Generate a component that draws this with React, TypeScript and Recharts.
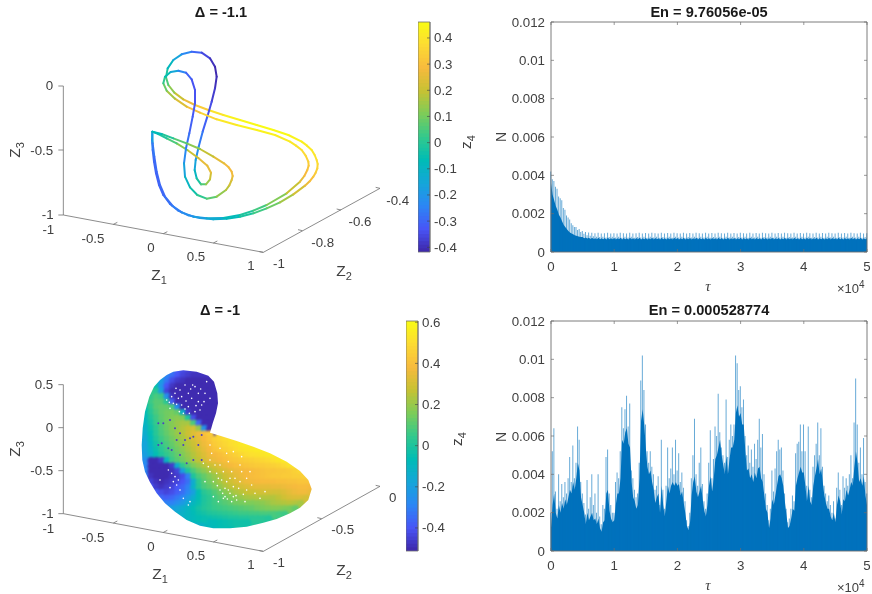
import React from "react";
import {
  ComposedChart,
  ScatterChart,
  Scatter,
  Area,
  Bar,
  XAxis,
  YAxis,
  ReferenceLine,
  ReferenceArea,
} from "recharts";

const TICK_COLOR = "#404040";
const AXIS_COLOR = "#6e6e6e";
const BLUE = "#0072BD";
const FONT = "'Liberation Sans', Arial, sans-serif";

// tau samples shared by both N(tau) panels
const tau = [
  0, 250, 500, 750, 1000, 1250, 1500, 1750, 2000, 2250, 2500, 2750, 3000, 3250, 3500, 3750, 4000, 4250, 4500, 4750,
  5000, 5250, 5500, 5750, 6000, 6250, 6500, 6750, 7000, 7250, 7500, 7750, 8000, 8250, 8500, 8750, 9000, 9250, 9500, 9750,
  10000, 10250, 10500, 10750, 11000, 11250, 11500, 11750, 12000, 12250, 12500, 12750, 13000, 13250, 13500, 13750, 14000, 14250, 14500, 14750,
  15000, 15250, 15500, 15750, 16000, 16250, 16500, 16750, 17000, 17250, 17500, 17750, 18000, 18250, 18500, 18750, 19000, 19250, 19500, 19750,
  20000, 20250, 20500, 20750, 21000, 21250, 21500, 21750, 22000, 22250, 22500, 22750, 23000, 23250, 23500, 23750, 24000, 24250, 24500, 24750,
  25000, 25250, 25500, 25750, 26000, 26250, 26500, 26750, 27000, 27250, 27500, 27750, 28000, 28250, 28500, 28750, 29000, 29250, 29500, 29750,
  30000, 30250, 30500, 30750, 31000, 31250, 31500, 31750, 32000, 32250, 32500, 32750, 33000, 33250, 33500, 33750, 34000, 34250, 34500, 34750,
  35000, 35250, 35500, 35750, 36000, 36250, 36500, 36750, 37000, 37250, 37500, 37750, 38000, 38250, 38500, 38750, 39000, 39250, 39500, 39750,
  40000, 40250, 40500, 40750, 41000, 41250, 41500, 41750, 42000, 42250, 42500, 42750, 43000, 43250, 43500, 43750, 44000, 44250, 44500, 44750,
  45000, 45250, 45500, 45750, 46000, 46250, 46500, 46750, 47000, 47250, 47500, 47750, 48000, 48250, 48500, 48750, 49000, 49250, 49500, 49750,
  50000,
];

// N values in units of 1e-3: peaks are the pale spikes, core the solid fill
const topPeak = [
  4.2, 3.8, 3.7, 3.4, 3.3, 2.9, 2.8, 2.7, 2.3, 2.2, 1.9, 1.8, 1.7, 1.5, 1.4, 1.3, 1.3, 1.15, 1.2, 1.05,
  1.1, 0.95, 1.05, 0.88, 1.02, 0.85, 1.0, 0.82, 0.98, 0.8, 1.0, 0.78, 0.97, 0.8, 0.98, 0.76, 1.0, 0.78, 0.96, 0.8,
  0.98, 0.76, 0.97, 0.8, 1.0, 0.75, 0.98, 0.79, 0.96, 0.76, 1.0, 0.8, 0.97, 0.75, 0.98, 0.78, 1.0, 0.76, 0.96, 0.8,
  0.99, 0.75, 0.97, 0.79, 1.0, 0.76, 0.98, 0.8, 0.96, 0.75, 1.0, 0.78, 0.97, 0.76, 0.99, 0.8, 0.96, 0.75, 1.0, 0.79,
  0.98, 0.76, 0.97, 0.8, 1.0, 0.75, 0.96, 0.78, 0.99, 0.76, 0.97, 0.8, 1.0, 0.75, 0.98, 0.79, 0.96, 0.76, 1.0, 0.8,
  0.97, 0.75, 0.99, 0.78, 0.96, 0.76, 1.0, 0.8, 0.98, 0.75, 0.97, 0.79, 1.0, 0.76, 0.96, 0.8, 0.99, 0.75, 0.97, 0.78,
  1.0, 0.76, 0.98, 0.8, 0.96, 0.75, 1.0, 0.79, 0.97, 0.76, 0.99, 0.8, 0.96, 0.75, 1.0, 0.78, 0.98, 0.76, 0.97, 0.8,
  1.0, 0.75, 0.96, 0.79, 0.99, 0.76, 0.97, 0.8, 1.0, 0.75, 0.98, 0.78, 0.96, 0.76, 1.0, 0.8, 0.97, 0.75, 0.99, 0.79,
  0.96, 0.76, 1.0, 0.8, 0.98, 0.75, 0.97, 0.78, 1.0, 0.76, 0.96, 0.8, 0.99, 0.75, 0.97, 0.79, 1.0, 0.76, 0.98, 0.8,
  0.96, 0.75, 1.0, 0.78, 0.97, 0.76, 0.99, 0.8, 0.96, 0.75, 1.0, 0.79, 0.98, 0.76, 0.97, 0.8, 1.0, 0.75, 0.96, 0.78,
  0.98,
];
const topCore = [
  3.6, 3.0, 2.7, 2.4, 2.2, 1.95, 1.8, 1.6, 1.42, 1.3, 1.2, 1.1, 1.02, 0.96, 0.92, 0.88, 0.85, 0.82, 0.8, 0.78,
  0.78, 0.72, 0.76, 0.7, 0.75, 0.68, 0.74, 0.68, 0.72, 0.66, 0.74, 0.66, 0.72, 0.67, 0.73, 0.65, 0.74, 0.66, 0.72, 0.67,
  0.73, 0.65, 0.72, 0.67, 0.74, 0.65, 0.73, 0.66, 0.72, 0.65, 0.74, 0.67, 0.72, 0.65, 0.73, 0.66, 0.74, 0.65, 0.72, 0.67,
  0.73, 0.65, 0.72, 0.66, 0.74, 0.65, 0.73, 0.67, 0.72, 0.65, 0.74, 0.66, 0.72, 0.65, 0.73, 0.67, 0.72, 0.65, 0.74, 0.66,
  0.73, 0.65, 0.72, 0.67, 0.74, 0.65, 0.72, 0.66, 0.73, 0.65, 0.72, 0.67, 0.74, 0.65, 0.73, 0.66, 0.72, 0.65, 0.74, 0.67,
  0.72, 0.65, 0.73, 0.66, 0.72, 0.65, 0.74, 0.67, 0.73, 0.65, 0.72, 0.66, 0.74, 0.65, 0.72, 0.67, 0.73, 0.65, 0.72, 0.66,
  0.74, 0.65, 0.73, 0.67, 0.72, 0.65, 0.74, 0.66, 0.72, 0.65, 0.73, 0.67, 0.72, 0.65, 0.74, 0.66, 0.73, 0.65, 0.72, 0.67,
  0.74, 0.65, 0.72, 0.66, 0.73, 0.65, 0.72, 0.67, 0.74, 0.65, 0.73, 0.66, 0.72, 0.65, 0.74, 0.67, 0.72, 0.65, 0.73, 0.66,
  0.72, 0.65, 0.74, 0.67, 0.73, 0.65, 0.72, 0.66, 0.74, 0.65, 0.72, 0.67, 0.73, 0.65, 0.72, 0.66, 0.74, 0.65, 0.73, 0.67,
  0.72, 0.65, 0.74, 0.66, 0.72, 0.65, 0.73, 0.67, 0.72, 0.65, 0.74, 0.66, 0.73, 0.65, 0.72, 0.67, 0.74, 0.65, 0.72, 0.66,
  0.72,
];
const bottomPeak = [
  2.0, 5.2, 6.4, 3.1, 2.2, 4.0, 2.6, 3.5, 2.8, 3.6, 3.0, 3.8, 4.9, 3.6, 5.5, 3.8, 4.6, 6.5, 5.8, 3.6,
  3.0, 2.5, 1.9, 3.7, 2.2, 2.8, 4.0, 2.4, 3.0, 2.0, 4.0, 1.8, 1.4, 2.4, 2.2, 4.9, 5.3, 3.0, 2.4, 2.0,
  2.0, 3.6, 4.1, 3.8, 5.2, 7.5, 6.4, 7.4, 8.1, 6.5, 7.7, 4.2, 3.8, 3.2, 2.8, 3.0, 4.6, 8.9, 10.2, 8.4,
  6.6, 5.2, 4.6, 5.2, 4.4, 4.0, 3.2, 3.4, 3.9, 2.4, 5.8, 3.2, 2.2, 3.4, 5.4, 3.8, 4.3, 5.4, 4.0, 5.8,
  4.2, 5.1, 3.6, 4.1, 3.3, 2.6, 1.6, 1.3, 2.0, 3.8, 5.0, 6.9, 4.0, 3.4, 4.6, 5.4, 3.5, 2.6, 2.2, 3.0,
  4.6, 6.3, 3.8, 4.8, 6.5, 6.0, 8.2, 6.2, 5.4, 5.0, 4.6, 7.9, 4.9, 5.8, 6.6, 6.0, 6.6, 10.2, 9.8, 8.4,
  8.6, 7.5, 7.9, 6.0, 5.0, 5.5, 4.6, 5.3, 4.4, 5.6, 4.8, 5.8, 6.9, 5.4, 6.1, 4.0, 3.0, 2.4, 1.6, 2.2,
  4.2, 3.1, 4.3, 5.2, 5.8, 5.3, 5.4, 4.2, 3.0, 2.2, 1.5, 1.7, 2.2, 2.9, 2.6, 5.1, 5.6, 5.7, 6.6, 5.2,
  6.6, 5.2, 3.4, 6.5, 3.2, 2.8, 4.4, 5.0, 5.6, 6.7, 5.0, 6.4, 4.4, 3.4, 3.0, 2.6, 2.9, 2.4, 2.0, 2.6,
  1.7, 3.3, 4.1, 3.2, 2.4, 3.9, 3.3, 3.8, 3.4, 4.0, 5.0, 3.8, 6.7, 9.0, 6.6, 4.6, 5.4, 4.0, 5.9, 3.6,
  3.0,
];
const bottomCore = [
  1.2, 2.4, 3.0, 2.0, 1.7, 2.4, 2.0, 2.5, 2.2, 2.7, 2.4, 2.8, 3.2, 3.0, 3.6, 3.2, 3.8, 4.6, 4.2, 2.8,
  2.4, 2.0, 1.4, 2.0, 1.6, 1.8, 2.0, 1.6, 1.7, 1.4, 1.7, 1.2, 1.0, 1.5, 1.6, 3.0, 3.2, 2.1, 1.7, 1.5,
  1.6, 2.4, 3.0, 3.0, 3.8, 5.8, 5.6, 6.2, 6.4, 5.6, 5.4, 3.6, 2.8, 2.6, 2.2, 2.4, 3.8, 6.8, 7.4, 6.6,
  5.4, 4.4, 4.0, 4.2, 3.6, 3.2, 2.5, 2.8, 3.0, 2.0, 3.4, 2.4, 1.8, 2.6, 3.4, 3.0, 3.4, 3.6, 3.4, 3.6,
  3.4, 3.5, 2.9, 3.1, 2.5, 2.0, 1.3, 1.1, 1.5, 2.9, 3.6, 3.9, 3.1, 2.8, 3.1, 3.4, 2.7, 2.1, 1.8, 2.4,
  3.4, 3.9, 3.1, 3.8, 4.8, 5.0, 5.4, 5.8, 5.0, 4.5, 4.0, 5.0, 4.0, 4.8, 5.4, 5.4, 5.8, 7.2, 7.6, 7.0,
  7.2, 6.6, 6.6, 5.2, 4.2, 4.3, 3.8, 4.0, 3.6, 4.1, 3.8, 4.3, 4.4, 3.8, 3.6, 2.9, 2.2, 2.0, 1.2, 1.7,
  2.7, 2.4, 2.9, 3.4, 3.9, 4.0, 3.8, 3.4, 2.6, 1.9, 1.2, 1.3, 1.7, 2.2, 2.1, 3.4, 3.8, 4.1, 4.4, 4.1,
  4.1, 3.4, 2.6, 3.4, 2.6, 2.4, 3.4, 3.9, 4.3, 4.8, 4.0, 4.3, 3.6, 2.9, 2.5, 2.2, 2.2, 1.8, 1.6, 2.0,
  1.5, 2.4, 2.9, 2.6, 1.9, 2.7, 2.6, 3.2, 2.9, 3.2, 3.6, 3.4, 4.4, 5.2, 4.6, 3.6, 3.8, 3.4, 3.9, 2.9,
  2.4,
];

const tauTicks = [0, 10000, 20000, 30000, 40000, 50000];
const nTicks = [0, 2, 4, 6, 8, 10, 12];
const nTickLabels = ["0", "0.002", "0.004", "0.006", "0.008", "0.01", "0.012"];

// Delta = -1.1 orbit, projected onto the page plane (3x picture units) with its z4 value (percent)
const orbitU = [
  457, 456, 458, 462, 468, 477, 490, 510, 535, 565, 600, 640, 680, 720, 760, 800, 840, 880, 915, 929, 940, 947, 952, 953, 950, 944, 935, 921, 905, 865, 820, 770, 720, 670, 625, 585, 550, 523, 505, 498, 503, 520, 545, 575, 605, 630, 645, 650, 645, 635, 622, 608, 596, 587, 584, 590, 603, 618, 630, 633, 622, 595, 562, 530, 500, 475,
  457, 458, 463, 470, 480, 495, 518, 545, 580, 620, 670, 720, 760, 800, 860, 900, 913, 922, 926, 925, 917, 905, 888, 870, 825, 770, 710, 650, 600, 560, 525, 500, 490, 495, 512, 535, 558, 575, 585, 585, 578, 568, 558, 552, 555, 570, 592, 620, 650, 678, 688, 695, 698, 695, 686, 672, 640, 600, 560, 520, 485, 457,
];
const orbitV = [
  395, 420, 450, 485, 520, 555, 585, 612, 632, 646, 654, 658, 656, 650, 640, 625, 607, 583, 557, 544, 530, 518, 505, 492, 480, 465, 450, 437, 425, 405, 390, 375, 360, 345, 330, 315, 298, 278, 255, 232, 205, 180, 163, 155, 158, 175, 200, 230, 265, 305, 350, 395, 440, 480, 510, 535, 553, 553, 538, 518, 497, 474, 450, 430, 415, 402,
  395, 430, 470, 515, 555, 590, 618, 637, 650, 655, 654, 645, 632, 615, 580, 545, 528, 510, 497, 485, 467, 450, 437, 425, 405, 390, 375, 358, 338, 320, 296, 272, 250, 230, 216, 212, 218, 238, 270, 310, 350, 400, 445, 490, 530, 562, 585, 596, 590, 570, 556, 540, 528, 515, 502, 490, 470, 447, 430, 415, 402, 395,
];
const orbitZ4 = [
  -10, -22, -28, -30, -31, -31, -30, -28, -25, -22, -18, -14, -10, -5, 1, 6, 12, 19, 25, 28, 31, 33, 35, 37, 38, 40, 41, 42, 43, 45, 46, 46, 45, 42, 37, 30, 24, 17, 9, 2, -5, -12, -20, -27, -33, -38, -41, -41, -39, -36, -33, -29, -24, -19, -13, -6, 2, 10, 18, 24, 27, 24, 17, 8, 2, -5,
  -10, -25, -28, -30, -30, -29, -27, -24, -20, -16, -11, -4, 1, 7, 16, 24, 27, 30, 32, 34, 36, 38, 40, 41, 43, 44, 43, 39, 33, 27, 20, 12, 5, -2, -10, -20, -28, -33, -34, -33, -32, -30, -26, -20, -13, -7, -1, 4, 10, 17, 20, 24, 26, 28, 28, 27, 23, 16, 10, 3, -4, -10,
];

// Delta = -1 point cloud sampled on a grid: [v, first u, z4 values in percent, one per 16 units of u]
const cloudRows: [number, number, number[]][] = [
  [20, 144, [-38, -42, -44, -46]],
  [32, 112, [-28, -34, -40, -44, -46, -48, -48, -48]],
  [48, 96, [-20, -32, -42, -46, -48, -50, -50, -50, -50, -50, -50]],
  [64, 80, [-5, -24, -40, -47, -50, -50, -50, -50, -50, -50, -50, -50]],
  [80, 64, [6, 2, -20, -44, -50, -50, -50, -50, -50, -50, -50, -50, -50]],
  [96, 64, [4, 8, 6, -25, -48, -50, -50, -50, -50, -50, -50, -50, -50]],
  [112, 48, [-2, 6, 10, 10, 2, -38, -50, -50, -50, -50, -50, -50, -50, -50]],
  [128, 48, [-4, 4, 10, 12, 12, 8, -26, -50, -50, -50, -50, -50, -50, -50]],
  [144, 48, [-6, 2, 8, 12, 14, 15, 12, -12, -46, -50, -50, -50, -50]],
  [160, 48, [-8, 0, 6, 11, 14, 16, 18, 16, 0, -42, -50, -50, -50]],
  [176, 48, [-10, -2, 5, 10, 14, 17, 20, 22, 22, 8, -36, -50, -50]],
  [192, 48, [-12, -4, 3, 9, 13, 17, 20, 24, 27, 30, 20, -25, -50]],
  [208, 48, [-14, -6, 2, 8, 12, 16, 20, 24, 28, 32, 36, 40, 44]],
  [224, 48, [-16, -8, 0, 6, 10, 14, 18, 22, 26, 30, 34, 38, 42, 46, 48, 50, 52]],
  [240, 48, [-18, -10, -2, 4, 8, 12, 16, 20, 24, 28, 32, 36, 40, 44, 46, 48, 50, 52, 54, 55]],
  [256, 48, [-18, -12, -4, 2, 6, 10, 14, 18, 22, 26, 30, 34, 38, 42, 44, 46, 48, 50, 52, 53, 54, 55, 55]],
  [272, 48, [-20, -14, -6, 0, 4, 8, 12, 16, 20, 24, 28, 32, 36, 38, 40, 42, 44, 46, 48, 50, 51, 52, 53, 54, 55]],
  [288, 48, [-26, -50, -50, -46, -10, 6, 10, 14, 18, 22, 26, 30, 34, 36, 38, 40, 42, 43, 44, 45, 46, 47, 48, 49, 51, 53, 55]],
  [304, 48, [-28, -50, -50, -50, -50, -46, -14, 4, 10, 16, 20, 24, 28, 30, 33, 36, 38, 40, 41, 42, 43, 44, 44, 45, 46, 47, 49, 52]],
  [320, 48, [-28, -50, -50, -50, -50, -48, -44, -20, 0, 8, 14, 18, 22, 26, 29, 32, 34, 36, 37, 38, 39, 40, 41, 42, 42, 43, 43, 44, 46, 48]],
  [336, 48, [-30, -48, -50, -50, -50, -48, -46, -42, -30, 0, 8, 12, 16, 20, 24, 28, 31, 34, 36, 38, 39, 40, 41, 42, 43, 43, 44, 44, 45, 45, 46]],
  [352, 64, [-44, -48, -50, -48, -46, -44, -40, -34, -15, 3, 10, 14, 18, 22, 26, 29, 32, 34, 36, 37, 38, 39, 39, 39, 40, 40, 41, 41, 42, 42, 42]],
  [368, 64, [-40, -46, -48, -46, -44, -40, -36, -30, -12, 2, 8, 11, 15, 19, 23, 26, 28, 30, 32, 33, 34, 34, 34, 35, 35, 36, 37, 38, 39, 39, 38]],
  [384, 80, [-38, -42, -44, -42, -38, -34, -28, -20, -6, 2, 5, 9, 13, 17, 20, 23, 25, 27, 28, 29, 30, 30, 30, 30, 32, 34, 36, 37, 37, 35]],
  [400, 80, [-30, -36, -38, -36, -32, -28, -22, -14, -6, 0, 3, 7, 10, 13, 16, 18, 20, 22, 23, 24, 24, 24, 24, 26, 29, 31, 32, 32, 30]],
  [416, 96, [-28, -30, -30, -26, -22, -16, -10, -5, 0, 3, 6, 8, 10, 12, 14, 15, 16, 16, 17, 18, 20, 22, 23, 24, 25, 24, 22]],
  [432, 112, [-20, -20, -18, -14, -10, -6, -2, 1, 3, 5, 6, 7, 8, 9, 10, 11, 12, 14, 15, 16, 17, 17, 16, 15, 12]],
  [448, 144, [-14, -12, -10, -7, -4, -2, 0, 1, 2, 3, 4, 5, 6, 6, 7, 7, 8, 8, 8, 7, 6]],
  [462, 176, [-10, -8, -6, -5, -4, -3, -2, -1, 0, 0, 1, 1, 2, 2, 2, 1]],
  [474, 240, [-8, -7, -6, -5, -4, -3, -3, -3]],
];
// edge of the cloud: u, v, z4 (percent)
const cloudEdge = [
  [130, 20, -36], [160, 16, -42], [200, 20, -46], [235, 32, -48], [252, 50, -50], [262, 85, -50], [264, 115, -50], [258, 145, -50], [248, 175, -50], [240, 203, -50],
  [270, 212, 48], [320, 228, 52], [370, 245, 54], [420, 265, 55], [470, 290, 54], [510, 318, 50], [535, 345, 44], [545, 372, 38], [535, 405, 32], [510, 428, 24],
  [480, 445, 14], [440, 462, 6], [400, 473, 1], [350, 485, -2], [300, 490, -6], [250, 490, -9], [210, 482, -12], [170, 465, -14], [135, 440, -20], [105, 415, -25],
  [80, 385, -30], [60, 352, -34], [45, 320, -30], [37, 285, -24], [35, 240, -18], [38, 190, -12], [45, 140, -6], [58, 95, -2], [72, 65, 0], [90, 45, -15], [110, 30, -26],
];
// gaps in the cloud and stray low-z4 points lying on top of the ribbon
const cloudGaps = [
  [130, 115], [145, 100], [165, 60], [175, 85], [195, 65], [205, 110], [160, 145], [135, 85], [185, 100], [215, 120], [150, 75], [120, 130], [175, 125], [195, 140], [225, 85], [110, 105], [230, 50], [240, 100], [155, 120], [205, 85],
  [125, 95], [140, 118], [168, 108], [182, 72], [212, 72], [198, 122], [148, 140], [165, 132], [118, 112], [178, 145], [188, 60], [222, 110], [138, 70], [155, 95], [210, 135],
  [240, 320], [265, 340], [285, 395], [300, 385], [320, 405], [270, 375], [310, 365], [255, 300], [330, 350], [350, 375], [290, 350], [240, 285], [280, 320], [305, 320], [345, 410], [265, 410], [360, 320], [390, 400], [225, 350], [250, 395], [330, 300], [295, 290], [310, 260], [270, 250], [240, 240], [280, 400], [310, 395], [295, 375],
  [250, 350], [262, 362], [278, 385], [292, 402], [305, 410], [318, 392], [326, 370], [340, 388], [275, 345], [300, 340], [315, 340], [260, 325], [235, 305], [285, 370], [365, 360], [375, 385], [405, 380], [335, 320], [350, 340], [270, 300], [245, 265], [220, 295], [290, 265], [335, 275],
  [130, 350], [140, 360], [125, 325], [115, 315], [180, 410], [175, 420], [90, 345], [150, 375], [135, 335], [120, 368], [145, 345], [160, 400],
];
const cloudStray = [
  [85, 175], [100, 175], [120, 165], [135, 190], [150, 205], [165, 225], [190, 215], [205, 240], [215, 210], [95, 235], [85, 240], [115, 250], [125, 255], [150, 270], [170, 295], [190, 285], [215, 285], [160, 240], [140, 225], [180, 220],
];

const topAxes = [
  [190, 258, 190, 645], [190, 645, 790, 757], [790, 757, 1140, 565],
  [175, 258, 190, 258], [175, 450, 190, 450], [175, 645, 190, 645],
  [340, 673, 352, 667], [490, 701, 502, 695], [640, 729, 652, 723], [778, 755, 790, 757],
  [907, 692, 894, 689], [1023, 630, 1010, 627], [1140, 565, 1127, 562],
];
const bottomAxes = [
  [190, 263, 190, 650], [190, 650, 790, 763], [790, 763, 1140, 568],
  [175, 263, 190, 263], [175, 392, 190, 392], [175, 521, 190, 521], [175, 650, 190, 650],
  [340, 678, 352, 672], [490, 706, 502, 700], [640, 735, 652, 729], [778, 761, 790, 763],
  [965, 665, 952, 662], [1140, 568, 1127, 565],
];
const topAxisLabels = [
  { u: 148, v: 257, label: "0" }, { u: 125, v: 450, label: "-0.5" }, { u: 143, v: 643, label: "-1" },
  { u: 145, v: 687, label: "-1" }, { u: 279, v: 714, label: "-0.5" }, { u: 453, v: 742, label: "0" }, { u: 588, v: 770, label: "0.5" }, { u: 753, v: 797, label: "1" },
  { u: 837, v: 790, label: "-1" }, { u: 968, v: 727, label: "-0.8" }, { u: 1080, v: 664, label: "-0.6" }, { u: 1193, v: 600, label: "-0.4" },
];
const bottomAxisLabels = [
  { u: 132, v: 263, label: "0.5" }, { u: 148, v: 392, label: "0" }, { u: 125, v: 521, label: "-0.5" }, { u: 143, v: 650, label: "-1" },
  { u: 145, v: 693, label: "-1" }, { u: 279, v: 720, label: "-0.5" }, { u: 453, v: 748, label: "0" }, { u: 588, v: 776, label: "0.5" }, { u: 753, v: 803, label: "1" },
  { u: 837, v: 796, label: "-1" }, { u: 1028, v: 698, label: "-0.5" }, { u: 1178, v: 602, label: "0" },
];

const topBarTicks = [-0.4, -0.3, -0.2, -0.1, 0, 0.1, 0.2, 0.3, 0.4];
const bottomBarTicks = [-0.4, -0.2, 0, 0.2, 0.4, 0.6];
const topClim: [number, number] = [-0.418, 0.461];
const bottomClim: [number, number] = [-0.512, 0.606];

const parulaStops = [
  [62, 38, 168], [72, 85, 246], [44, 134, 245], [20, 166, 217], [0, 188, 181], [51, 201, 140],
  [125, 204, 89], [199, 194, 51], [247, 186, 61], [252, 219, 51], [249, 251, 20],
];

function parula(t: number) {
  const p = Math.min(0.9999, Math.max(0, t)) * (parulaStops.length - 1);
  const i = Math.floor(p);
  const f = p - i;
  const c = parulaStops[i].map((s, k) => Math.round(s + (parulaStops[i + 1][k] - s) * f));
  return `rgb(${c[0]},${c[1]},${c[2]})`;
}
const zColor = (z: number, clim: [number, number]) => parula((z - clim[0]) / (clim[1] - clim[0]));

const NoMark = () => <g />;

function TickText(props: any) {
  return (
    <text x={props.cx} y={props.cy} dy={4.5} textAnchor="middle" fontSize={13.3} fontFamily={FONT} fill={TICK_COLOR}>
      {props.payload.label}
    </text>
  );
}

function Panel3D({ height, axes, labels, children }: any) {
  return (
    <ScatterChart width={470} height={height} margin={{ top: 0, right: 0, bottom: 0, left: 0 }}>
      <XAxis hide type="number" dataKey="u" domain={[0, 1410]} />
      <YAxis hide type="number" dataKey="v" domain={[0, height * 3]} reversed />
      {axes.map((a: number[], i: number) => (
        <ReferenceLine key={i} segment={[{ x: a[0], y: a[1] }, { x: a[2], y: a[3] }]} stroke={AXIS_COLOR} strokeWidth={0.8} />
      ))}
      {children}
      <Scatter data={labels} shape={TickText} isAnimationActive={false} />
    </ScatterChart>
  );
}

const orbitSegments = orbitU.slice(1).map((_, i) => ({
  z: (orbitZ4[i] + orbitZ4[i + 1]) / 200,
  points: [
    { u: orbitU[i], v: orbitV[i] },
    { u: orbitU[i + 1], v: orbitV[i + 1] },
  ],
})).filter((s) => s.points[0].u !== s.points[1].u || s.points[0].v !== s.points[1].v);

// cloud data are in crop units, shifted here onto the panel's plane
const CLOUD_U0 = 390;
const CLOUD_V0 = 204;
const cloudPoints = cloudRows.flatMap(([v, first, zs]) =>
  zs.map((z, i) => ({ u: CLOUD_U0 + first + i * 16, v: CLOUD_V0 + v, z: z / 100 }))
);
const shiftPoint = ([u, v]: number[]) => ({ u: CLOUD_U0 + u, v: CLOUD_V0 + v });
const edgeSegments = cloudEdge.map((e, i) => {
  const next = cloudEdge[(i + 1) % cloudEdge.length];
  return { z: e[2] / 100, points: [shiftPoint(e), shiftPoint(next)] };
});
const cloudClip = `polygon(${cloudEdge
  .map((e) => `${((CLOUD_U0 + e[0]) / 3).toFixed(1)}px ${((CLOUD_V0 + e[1]) / 3).toFixed(1)}px`)
  .join(",")})`;

function CloudDot(props: any) {
  return <circle cx={props.cx} cy={props.cy} r={3.9} fill={zColor(props.payload.z, bottomClim)} />;
}
const GapDot = (props: any) => <circle cx={props.cx} cy={props.cy} r={0.8} fill="#ffffff" />;
const StrayDot = (props: any) => <circle cx={props.cx} cy={props.cy} r={1} fill="#4a3fc4" />;

function Colorbar({ left, top, clim, ticks }: { left: number; top: number; clim: [number, number]; ticks: number[] }) {
  const levels = Array.from({ length: 64 }, (_, i) => i);
  const step = (clim[1] - clim[0]) / 64;
  const BarTick = (p: any) => (
    <g>
      <line x1={p.x - 3} x2={p.x} y1={p.y} y2={p.y} stroke={TICK_COLOR} strokeWidth={0.6} />
      <text x={p.x + 4} y={p.y} dy={4.5} fontSize={13.3} fontFamily={FONT} fill={TICK_COLOR}>
        {String(p.payload.value)}
      </text>
    </g>
  );
  return (
    <div style={{ position: "absolute", left, top: top - 10 }}>
      <ComposedChart width={52} height={250} margin={{ top: 10, right: 0, bottom: 10, left: 0 }} data={[{ x: 0, y: clim[0] }, { x: 1, y: clim[1] }]}>
        <XAxis hide type="number" dataKey="x" domain={[0, 1]} />
        <YAxis
          orientation="right"
          type="number"
          width={40}
          domain={clim}
          ticks={ticks}
          interval={0}
          tickSize={0}
          tickMargin={0}
          tickLine={false}
          axisLine={{ stroke: AXIS_COLOR, strokeWidth: 0.8 }}
          tick={BarTick}
        />
        <Area dataKey="y" stroke="none" fillOpacity={0} isAnimationActive={false} dot={false} activeDot={false} />
        {levels.map((l) => (
          <ReferenceArea
            key={l}
            x1={0}
            x2={1}
            y1={clim[0] + l * step}
            y2={Math.min(clim[1], clim[0] + (l + 1.4) * step)}
            fill={parula((l + 0.5) / 64)}
            fillOpacity={1}
            stroke="none"
          />
        ))}
        <ReferenceArea x1={0} x2={1} y1={clim[0]} y2={clim[1]} fill="none" stroke={AXIS_COLOR} strokeWidth={0.8} />
      </ComposedChart>
    </div>
  );
}

function NPanel({ top, marginTop, height, peak, core }: any) {
  const data = tau.map((t, i) => ({ tau: t, peak: peak[i], core: core[i] }));
  const YTick = (p: any) => (
    <g>
      <line x1={p.x} x2={p.x + 3} y1={p.y} y2={p.y} stroke={AXIS_COLOR} strokeWidth={0.7} />
      <text x={p.x - 6} y={p.y} dy={4.5} textAnchor="end" fontSize={13.3} fontFamily={FONT} fill={TICK_COLOR}>
        {nTickLabels[nTicks.indexOf(p.payload.value)]}
      </text>
    </g>
  );
  const XTick = (p: any) => (
    <g>
      <line x1={p.x} x2={p.x} y1={p.y} y2={p.y - 3} stroke={AXIS_COLOR} strokeWidth={0.7} />
      <text x={p.x} y={p.y} dy={19} textAnchor="middle" fontSize={13.3} fontFamily={FONT} fill={TICK_COLOR}>
        {p.payload.value / 10000}
      </text>
    </g>
  );
  const TopTick = (p: any) => <line x1={p.x} x2={p.x} y1={p.y} y2={p.y + 3} stroke={AXIS_COLOR} strokeWidth={0.7} />;
  const RightTick = (p: any) => <line x1={p.x} x2={p.x - 3} y1={p.y} y2={p.y} stroke={AXIS_COLOR} strokeWidth={0.7} />;
  const axisLine = { stroke: AXIS_COLOR, strokeWidth: 0.9 };
  return (
    <div style={{ position: "absolute", left: 490, top }}>
      <ComposedChart width={382} height={height} data={data} margin={{ top: marginTop - 1, right: 4, bottom: 0, left: 0 }}>
        <XAxis dataKey="tau" type="number" domain={[0, 50000]} ticks={tauTicks} interval={0} height={43} tickSize={0} tickMargin={0} tickLine={false} axisLine={axisLine} tick={XTick} />
        <XAxis xAxisId="box" orientation="top" dataKey="tau" type="number" domain={[0, 50000]} ticks={tauTicks} interval={0} height={1} tickSize={0} tickMargin={0} tickLine={false} axisLine={axisLine} tick={TopTick} />
        <YAxis type="number" domain={[0, 12]} ticks={nTicks} interval={0} width={61} tickSize={0} tickMargin={0} tickLine={false} axisLine={axisLine} tick={YTick} />
        <YAxis yAxisId="box" orientation="right" type="number" domain={[0, 12]} ticks={nTicks} interval={0} width={1} tickSize={0} tickMargin={0} tickLine={false} axisLine={axisLine} tick={RightTick} />
        <Area xAxisId="box" yAxisId="box" dataKey="core" stroke="none" fillOpacity={0} isAnimationActive={false} dot={false} activeDot={false} />
        <Bar dataKey="peak" barSize={1} fill={BLUE} fillOpacity={0.6} isAnimationActive={false} />
        <Area dataKey="core" type="linear" stroke="none" fill={BLUE} fillOpacity={1} isAnimationActive={false} dot={false} activeDot={false} />
      </ComposedChart>
    </div>
  );
}

function Sub({ x, y, base, sub, rotate }: any) {
  return (
    <text
      x={x}
      y={y}
      fontSize={15.5}
      fontFamily={FONT}
      fill={TICK_COLOR}
      textAnchor="middle"
      transform={rotate ? `rotate(-90 ${x} ${y})` : undefined}
    >
      {base}
      <tspan fontSize={11} dy={4}>{sub}</tspan>
    </text>
  );
}

function Title({ x, y, children }: any) {
  return (
    <text x={x} y={y} textAnchor="middle" fontSize={14.6} fontWeight="bold" fontFamily={FONT} fill="#1a1a1a">
      {children}
    </text>
  );
}

function Overlay() {
  const plain = { fontFamily: FONT, fill: TICK_COLOR };
  const serif = { fontFamily: "'Liberation Serif', serif", fontStyle: "italic", fill: TICK_COLOR };
  return (
    <svg width={872} height={594} style={{ position: "absolute", left: 0, top: 0, pointerEvents: "none" }}>
      <Title x={221} y={17}>Δ = -1.1</Title>
      <Title x={220} y={315}>Δ = -1</Title>
      <Title x={709} y={17}>En = 9.76056e-05</Title>
      <Title x={709} y={315}>En = 0.000528774</Title>

      <Sub x={20} y={150} base="Z" sub="3" rotate />
      <Sub x={159} y={280} base="Z" sub="1" />
      <Sub x={344} y={276} base="Z" sub="2" />
      <Sub x={20} y={449} base="Z" sub="3" rotate />
      <Sub x={160} y={579} base="Z" sub="1" />
      <Sub x={344} y={575} base="Z" sub="2" />
      <Sub x={471} y={142} base="z" sub="4" rotate />
      <Sub x={462} y={439} base="z" sub="4" rotate />

      <text x={506} y={137} transform="rotate(-90 506 137)" textAnchor="middle" fontSize={14} {...plain}>N</text>
      <text x={506} y={437} transform="rotate(-90 506 437)" textAnchor="middle" fontSize={14} {...plain}>N</text>
      <text x={708} y={291} textAnchor="middle" fontSize={15} {...serif}>τ</text>
      <text x={708} y={590} textAnchor="middle" fontSize={15} {...serif}>τ</text>
      <text x={837} y={293} fontSize={13} {...plain}>×10<tspan fontSize={10} dy={-5}>4</tspan></text>
      <text x={837} y={592} fontSize={13} {...plain}>×10<tspan fontSize={10} dy={-5}>4</tspan></text>
    </svg>
  );
}

export default function App() {
  return (
    <div style={{ position: "absolute", left: 0, top: 0, width: 872, height: 594, background: "#fff", overflow: "hidden", filter: "blur(0.35px)" }}>
      <div style={{ position: "absolute", left: 0, top: 0 }}>
        <Panel3D height={295} axes={topAxes} labels={topAxisLabels}>
          {orbitSegments.map((s, i) => (
            <Scatter
              key={i}
              data={s.points}
              shape={NoMark}
              line={{ stroke: zColor(s.z, topClim), strokeWidth: 2, strokeLinecap: "round" }}
              isAnimationActive={false}
            />
          ))}
        </Panel3D>
      </div>
      <div style={{ position: "absolute", left: 0, top: 297 }}>
        <Panel3D height={297} axes={bottomAxes} labels={bottomAxisLabels} />
      </div>
      <div style={{ position: "absolute", left: 0, top: 297, width: 470, height: 297, clipPath: cloudClip }}>
        <div style={{ filter: "blur(1.2px)" }}>
          <Panel3D height={297} axes={[]} labels={[]}>
            {edgeSegments.map((s, i) => (
              <Scatter
                key={i}
                data={s.points}
                shape={NoMark}
                line={{ stroke: zColor(s.z, bottomClim), strokeWidth: 9, strokeLinecap: "round" }}
                isAnimationActive={false}
              />
            ))}
            <Scatter data={cloudPoints} shape={CloudDot} isAnimationActive={false} />
          </Panel3D>
        </div>
      </div>
      <div style={{ position: "absolute", left: 0, top: 297 }}>
        <Panel3D height={297} axes={[]} labels={[]}>
          <Scatter data={cloudGaps.map(shiftPoint)} shape={GapDot} isAnimationActive={false} />
          <Scatter data={cloudStray.map(shiftPoint)} shape={StrayDot} isAnimationActive={false} />
        </Panel3D>
      </div>
      <Colorbar left={418} top={22} clim={topClim} ticks={topBarTicks} />
      <Colorbar left={406} top={321} clim={bottomClim} ticks={bottomBarTicks} />
      <NPanel top={0} marginTop={22} height={295} peak={topPeak} core={topCore} />
      <NPanel top={297} marginTop={24} height={297} peak={bottomPeak} core={bottomCore} />
      <Overlay />
    </div>
  );
}
